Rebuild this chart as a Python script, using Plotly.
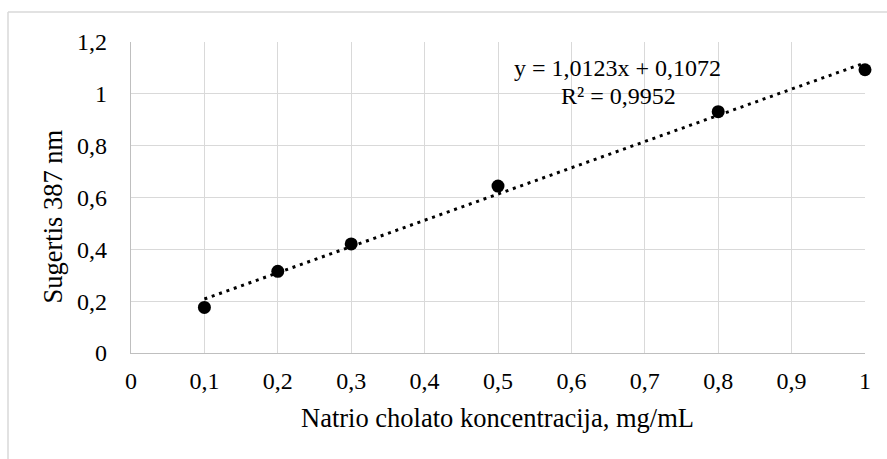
import plotly.graph_objects as go

# Measured absorbance vs. sodium cholate concentration
concentration = [0.1, 0.2, 0.3, 0.5, 0.8, 1.0]
absorbance = [0.176, 0.315, 0.421, 0.644, 0.931, 1.093]

# Linear trendline parameters (as reported on the chart)
slope = 1.0123
intercept = 0.1072
r_squared = 0.9952

x_tick_values = [0, 0.1, 0.2, 0.3, 0.4, 0.5, 0.6, 0.7, 0.8, 0.9, 1.0]
x_tick_labels = ["0", "0,1", "0,2", "0,3", "0,4", "0,5", "0,6", "0,7", "0,8", "0,9", "1"]
y_tick_values = [0, 0.2, 0.4, 0.6, 0.8, 1.0, 1.2]
y_tick_labels = ["0", "0,2", "0,4", "0,6", "0,8", "1", "1,2"]

FONT = "Liberation Serif"
W, H = 887, 459
L, R, T, B = 131, 22, 42, 106
PW, PH = W - L - R, H - T - B


def px_x(px):
    return (px - L) / PW


def px_y(py):
    return (H - B - py) / PH


trend_x = [min(concentration), max(concentration)]
trend_y = [slope * v + intercept for v in trend_x]

fig = go.Figure()
fig.add_trace(go.Scatter(
    x=trend_x, y=trend_y, mode="lines",
    line=dict(color="black", width=3, dash="3px,4.8px"),
    hoverinfo="skip", showlegend=False,
))
fig.add_trace(go.Scatter(
    x=concentration, y=absorbance, mode="markers",
    marker=dict(color="black", size=13),
    cliponaxis=False, showlegend=False,
))


def fmt(v, nd):
    return f"{v:.{nd}f}".replace(".", ",")


eq_text = f"y = {fmt(slope, 4)}x + {fmt(intercept, 4)}"
r2_text = f"R² = {fmt(r_squared, 4)}"

annotations = [
    dict(text=eq_text, x=px_x(617.5), y=px_y(68), xref="paper", yref="paper",
         xanchor="center", yanchor="middle", showarrow=False,
         font=dict(family=FONT, size=24, color="black")),
    dict(text=r2_text, x=px_x(618), y=px_y(96), xref="paper", yref="paper",
         xanchor="center", yanchor="middle", showarrow=False,
         font=dict(family=FONT, size=24, color="black")),
    dict(text="Natrio cholato koncentracija, mg/mL", x=px_x(497.5), y=px_y(418),
         xref="paper", yref="paper", xanchor="center", yanchor="middle",
         showarrow=False, font=dict(family=FONT, size=26.5, color="black")),
    dict(text="Sugertis 387 nm", x=px_x(52), y=px_y(216.5), textangle=-90,
         xref="paper", yref="paper", xanchor="center", yanchor="middle",
         showarrow=False, font=dict(family=FONT, size=26.5, color="black")),
]

border = "#d9d9d9"
shapes = [
    dict(type="line", xref="paper", yref="paper",
         x0=px_x(8), x1=px_x(900), y0=px_y(12), y1=px_y(12),
         line=dict(color=border, width=1.5)),
    dict(type="line", xref="paper", yref="paper",
         x0=px_x(8), x1=px_x(8), y0=px_y(12), y1=px_y(470),
         line=dict(color=border, width=1.5)),
]

fig.update_layout(
    width=W, height=H,
    margin=dict(l=L, r=R, t=T, b=B),
    paper_bgcolor="white", plot_bgcolor="white",
    font=dict(family=FONT, size=24, color="black"),
    separators=", ",
    annotations=annotations,
    shapes=shapes,
)
fig.update_xaxes(
    range=[0, 1], tickmode="array", tickvals=x_tick_values, ticktext=x_tick_labels,
    showgrid=True, gridcolor="#d9d9d9", gridwidth=1.3,
    showline=True, linecolor="#bfbfbf", linewidth=1.3,
    zeroline=False, ticks="", ticklabelstandoff=6,
    tickfont=dict(family=FONT, size=24, color="black"),
)
fig.update_yaxes(
    range=[0, 1.2], tickmode="array", tickvals=y_tick_values, ticktext=y_tick_labels,
    showgrid=True, gridcolor="#d9d9d9", gridwidth=1.3,
    showline=True, linecolor="#bfbfbf", linewidth=1.3,
    zeroline=False, ticks="", ticklabelstandoff=18,
    tickfont=dict(family=FONT, size=24, color="black"),
)

fig.write_html("out.html")
